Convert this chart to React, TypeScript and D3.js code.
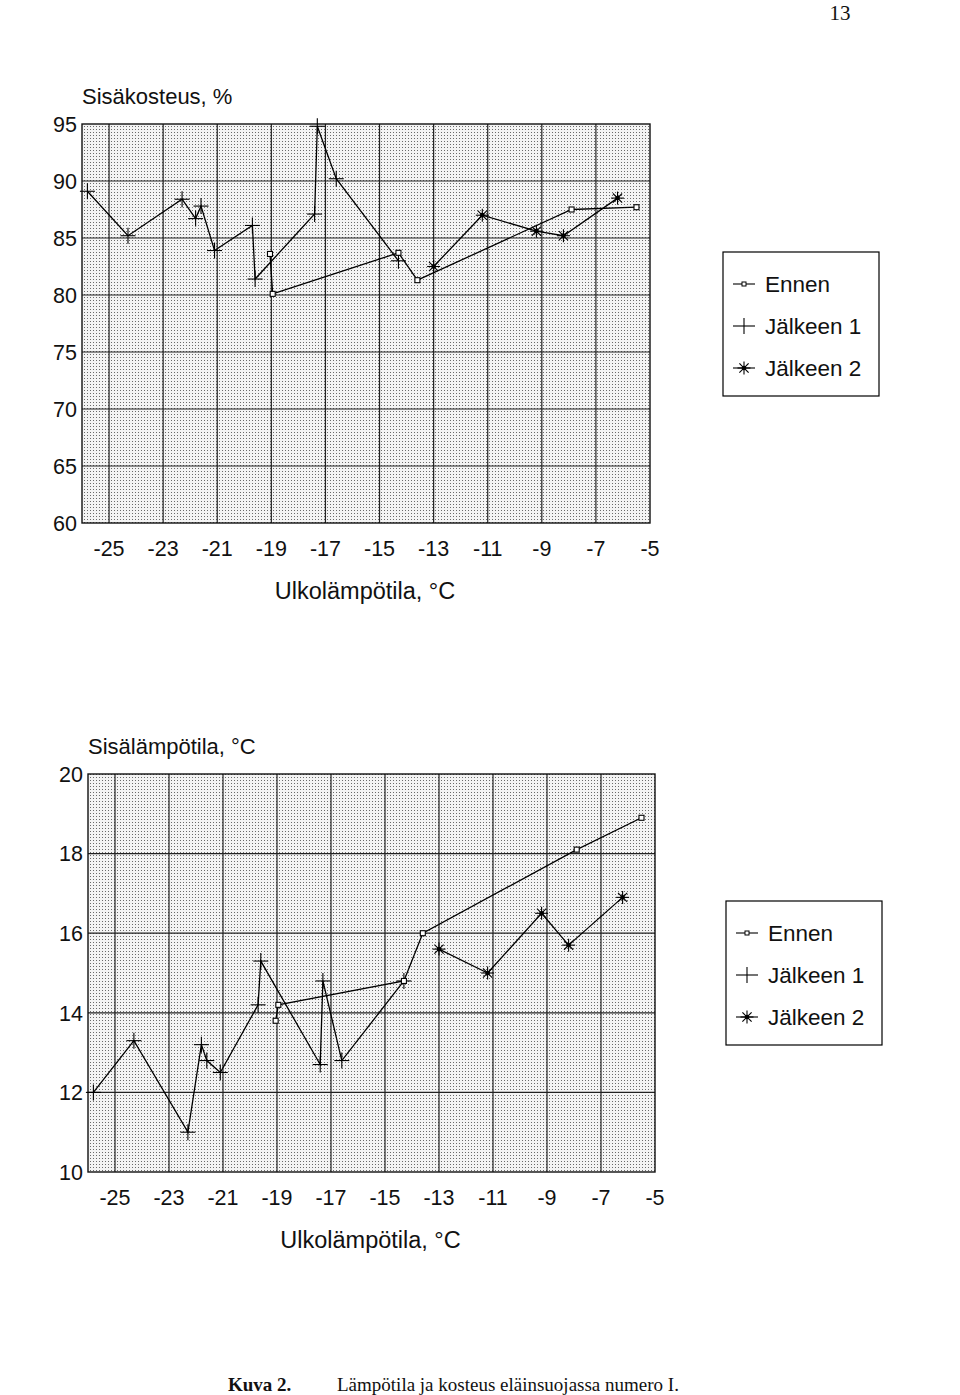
import React from "react";
import * as d3 from "d3";

// ---- data ----
const xTicks = [-25, -23, -21, -19, -17, -15, -13, -11, -9, -7, -5];
const humTicks = [60, 65, 70, 75, 80, 85, 90, 95];
const tempTicks = [10, 12, 14, 16, 18, 20];

const ennenX = [-19.05, -18.95, -14.3, -13.6, -7.9, -5.5];
const ennenHum = [83.6, 80.1, 83.7, 81.3, 87.5, 87.7];
const ennenTemp = [13.8, 14.2, 14.8, 16.0, 18.1, 18.9];

const j1X = [-25.8, -24.3, -22.3, -21.8, -21.6, -21.1, -19.7, -19.6, -17.4, -17.3, -16.6, -14.3];
const j1Hum = [89.1, 85.2, 88.4, 86.7, 87.8, 83.9, 86.1, 81.4, 87.1, 94.8, 90.2, 83.0];
const j1Temp = [12.0, 13.3, 11.0, 13.2, 12.8, 12.5, 14.2, 15.3, 12.7, 14.8, 12.8, 14.8];

const j2X = [-13.0, -11.2, -9.2, -8.2, -6.2];
const j2Hum = [82.5, 87.0, 85.6, 85.2, 88.5];
const j2Temp = [15.6, 15.0, 16.5, 15.7, 16.9];

const legendLabels = ["Ennen", "Jälkeen 1", "Jälkeen 2"];

const SANS = "'Liberation Sans', Arial, Helvetica, sans-serif";
const SERIF = "'Liberation Serif', 'Times New Roman', serif";

type Pt = [number, number];

function Square({ x, y }: { x: number; y: number }) {
  return <rect x={x - 2.5} y={y - 2.5} width={5} height={5} fill="white" stroke="black" strokeWidth={1.1} />;
}
function Plus({ x, y }: { x: number; y: number }) {
  return (
    <g stroke="black" strokeWidth={1.1}>
      <line x1={x - 7.5} x2={x + 7.5} y1={y} y2={y} />
      <line x1={x} x2={x} y1={y - 8} y2={y + 8} />
    </g>
  );
}
function Star({ x, y }: { x: number; y: number }) {
  const r = 6.5;
  const a = r * Math.SQRT1_2;
  return (
    <g stroke="black" strokeWidth={1.1}>
      <line x1={x - r} x2={x + r} y1={y} y2={y} />
      <line x1={x} x2={x} y1={y - r} y2={y + r} />
      <line x1={x - a} x2={x + a} y1={y - a} y2={y + a} />
      <line x1={x - a} x2={x + a} y1={y + a} y2={y - a} />
      <circle cx={x} cy={y} r={1.8} fill="black" />
    </g>
  );
}

function Legend({ x, y, w, h }: { x: number; y: number; w: number; h: number }) {
  const rows = [y + 32, y + 74, y + 116];
  const sx = x + 21;
  return (
    <g>
      <rect x={x} y={y} width={w} height={h} fill="white" stroke="black" strokeWidth={1.2} />
      {legendLabels.map((lab, i) => (
        <g key={lab}>
          <line x1={sx - 11} x2={sx + 11} y1={rows[i]} y2={rows[i]} stroke="black" strokeWidth={1.1} />
          {i === 0 && <rect x={sx - 2} y={rows[i] - 2} width={4} height={4} fill="white" stroke="black" strokeWidth={1} />}
          {i === 1 && <line x1={sx} x2={sx} y1={rows[i] - 8} y2={rows[i] + 8} stroke="black" strokeWidth={1.1} />}
          {i === 2 && <Star x={sx} y={rows[i]} />}
          <text x={x + 42} y={rows[i] + 8} fontFamily={SANS} fontSize={22.5} fill="#111">
            {lab}
          </text>
        </g>
      ))}
    </g>
  );
}

function Chart({
  left, right, top, bottom, yDomain, yTicks, title, ennen, j1, j2, legendPos, id,
}: {
  left: number; right: number; top: number; bottom: number;
  yDomain: [number, number]; yTicks: number[]; title: string;
  ennen: number[]; j1: number[]; j2: number[];
  legendPos: { x: number; y: number }; id: string;
}) {
  const x = d3.scaleLinear().domain([-26, -5]).range([left, right]);
  const y = d3.scaleLinear().domain(yDomain).range([bottom, top]);
  const line = d3.line<Pt>().x((d) => x(d[0])).y((d) => y(d[1]));
  const eP: Pt[] = ennenX.map((v, i) => [v, ennen[i]]);
  const j1P: Pt[] = j1X.map((v, i) => [v, j1[i]]);
  const j2P: Pt[] = j2X.map((v, i) => [v, j2[i]]);
  const innerY = yTicks.filter((t) => t !== yDomain[0] && t !== yDomain[1]);
  const innerX = xTicks.filter((t) => t !== -5);
  return (
    <g>
      <defs>
        <pattern id={id} width={3} height={3} patternUnits="userSpaceOnUse">
          <rect width={3} height={3} fill="#f4f4f4" />
          <rect width={1} height={1} fill="#6a6a6a" />
        </pattern>
      </defs>
      <text x={left} y={top - 20} fontFamily={SANS} fontSize={22} fill="#111">{title}</text>
      <rect x={left} y={top} width={right - left} height={bottom - top} fill={`url(#${id})`} />
      {innerX.map((t) => (
        <line key={"vx" + t} x1={x(t)} x2={x(t)} y1={top} y2={bottom} stroke="#222" strokeWidth={1.2} />
      ))}
      {innerY.map((t) => (
        <line key={"hy" + t} x1={left} x2={right} y1={y(t)} y2={y(t)} stroke="#222" strokeWidth={1.2} />
      ))}
      <rect x={left} y={top} width={right - left} height={bottom - top} fill="none" stroke="#111" strokeWidth={1.4} />
      {yTicks.map((t) => (
        <text key={"yl" + t} x={left - 5} y={y(t)} dy="0.36em" textAnchor="end" fontFamily={SANS} fontSize={21.5} fill="#111">
          {t}
        </text>
      ))}
      {xTicks.map((t) => (
        <text key={"xl" + t} x={x(t)} y={bottom + 33} textAnchor="middle" fontFamily={SANS} fontSize={21.5} fill="#111">
          {t}
        </text>
      ))}
      <text x={(left + right) / 2 - 1} y={bottom + 76} textAnchor="middle" fontFamily={SANS} fontSize={23.5} fill="#111">
        Ulkolämpötila, °C
      </text>
      <path d={line(eP) || ""} fill="none" stroke="black" strokeWidth={1.3} />
      <path d={line(j1P) || ""} fill="none" stroke="black" strokeWidth={1.3} />
      <path d={line(j2P) || ""} fill="none" stroke="black" strokeWidth={1.3} />
      {j1P.map((p, i) => <Plus key={"p" + i} x={x(p[0])} y={y(p[1])} />)}
      {j2P.map((p, i) => <Star key={"s" + i} x={x(p[0])} y={y(p[1])} />)}
      {eP.map((p, i) => <Square key={"e" + i} x={x(p[0])} y={y(p[1])} />)}
      <Legend x={legendPos.x} y={legendPos.y} w={156} h={144} />
    </g>
  );
}

export default function App() {
  return (
    <svg width={960} height={1395} style={{ position: "absolute", left: 0, top: 0, background: "white" }}>
      <rect width={960} height={1395} fill="white" />
      <text x={840} y={20} textAnchor="middle" fontFamily={SERIF} fontSize={21} fill="#111">13</text>
      <Chart
        id="stipA" left={82} right={650} top={124} bottom={523}
        yDomain={[60, 95]} yTicks={humTicks} title="Sisäkosteus, %"
        ennen={ennenHum} j1={j1Hum} j2={j2Hum} legendPos={{ x: 723, y: 252 }}
      />
      <Chart
        id="stipB" left={88} right={655} top={774} bottom={1172}
        yDomain={[10, 20]} yTicks={tempTicks} title="Sisälämpötila, °C"
        ennen={ennenTemp} j1={j1Temp} j2={j2Temp} legendPos={{ x: 726, y: 901 }}
      />
      <text x={228} y={1391} fontFamily={SERIF} fontSize={19} fontWeight="bold" fill="#111">Kuva 2.</text>
      <text x={337} y={1391} fontFamily={SERIF} fontSize={19} fill="#111">Lämpötila ja kosteus eläinsuojassa numero I.</text>
    </svg>
  );
}
